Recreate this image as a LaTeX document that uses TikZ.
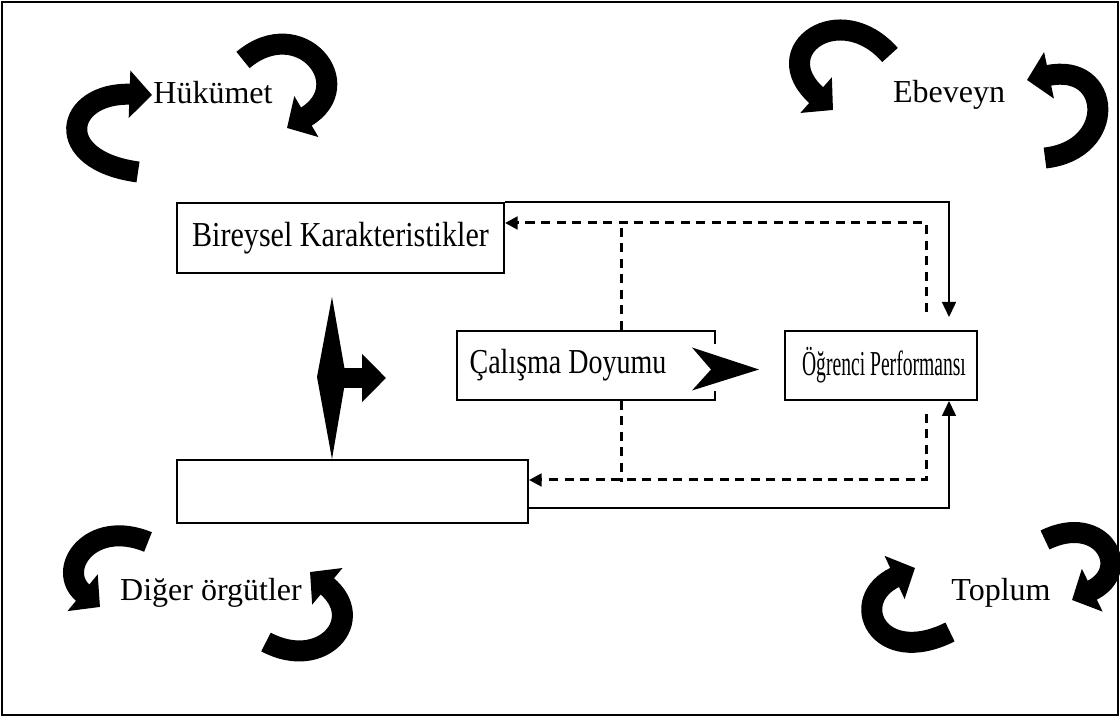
\documentclass[tikz,border=0pt]{standalone}
\usepackage{fontspec}
\setmainfont{Liberation Serif}
\usepackage{graphicx}
\usetikzlibrary{calc,arrows.meta}

\begin{document}
\begin{tikzpicture}[x=0.4pt,y=-0.4pt,
        box/.style={draw, line width=0.8pt, inner sep=0pt, font=\fontsize{14pt}{16pt}\selectfont},
        lbl/.style={inner sep=0pt, font=\fontsize{12.8pt}{15pt}\selectfont},
        flow/.style={line width=0.6pt, -{Triangle[length=6pt,width=5.6pt]}},
        fb/.style={line width=1.2pt, dash pattern=on 3.6pt off 2.6pt},
        fbtip/.style={fb, -{Triangle[length=5pt,width=5pt]}},
        curvy/.style={line width=8.4pt, -{Triangle[length=9pt,width=18.5pt]}}]
        \useasboundingbox (0,0) rectangle (1120,717);
        % Frame
        \draw[line width=0.8pt] (2,2) rectangle (1118,715);

        % Boxes
        \node[box, minimum width=130.8pt, minimum height=28pt] (bk) at (340.5,238) {\raisebox{3pt}{\scalebox{0.86}[1]{Bireysel Karakteristikler}}};
        \node[box, minimum width=103.2pt, minimum height=27.6pt] (cd) at (586,365.5) {\hspace*{-14.4pt}\scalebox{0.8}[1]{Çalışma Doyumu}};
        \node[box, minimum width=76.8pt, minimum height=27.6pt] (op) at (881,365.5) {\hspace*{2.4pt}\scalebox{0.56}[1]{Öğrenci Performansı}};
        \node[box, minimum width=140.4pt, minimum height=25.2pt] (lo) at (352.5,491.5) {};

        % Surroundings
        \node[lbl] (huk) at (213,93) {Hükümet};
        \node[lbl] (ebe) at (949,95) {Ebeveyn};
        \node[lbl] (dig) at (211,593) {Diğer örgütler};
        \node[lbl] (top) at (1001,593) {Toplum};

        % Solid links
        \draw[flow] (bk.north east) -| ($(op.north east)+(-29,-13)$);
        \draw[flow] ($(lo.south east)+(0,-16)$) -| ($(op.south east)+(-29,0)$);

        % Dashed feedback
        \draw[fbtip] ($(op.north east)+(-52,-18)$) |- ($(bk.north east)+(0,21)$);
        \draw[fbtip] ($(op.south east)+(-52,13)$) |- ($(lo.north east)+(0,21)$);
        \draw[fb] ($(cd.north west)+(165,0)$) -- ++(0,-107);
        \draw[fb] ($(cd.south west)+(165,0)$) -- ++(0,81);

        % Big head between the boxes
        \fill[white] ($(cd.east)+(-3,-21)$) rectangle ($(cd.east)+(45,26)$);
        \fill ($(cd.east)+(-24,-18)$) -- ($(cd.east)+(43,4)$) -- ($(cd.east)+(-24,25)$) -- ($(cd.east)+(-5,4)$) -- cycle;

        % Two way arrow
        \fill ($(lo.north west)+(156,0)$) coordinate (dt) -- ++(14,-82) -- ++(-14,-80) -- ++(-15,80) -- cycle;
        \draw[line width=8pt, -{Triangle[length=9.6pt,width=18.8pt]}] ($(dt)+(7,-81)$) -- ++(47,0);

        % Curved arrows
        \draw[curvy] (138,172) .. controls (50,160) and (65,92) .. (152,95);
        \draw[curvy] (243,60) .. controls (300,12) and (360,85) .. (287,128);
        \draw[curvy] (890,55) .. controls (840,-2) and (765,50) .. (833,110);
        \draw[curvy] (1045,158) .. controls (1118,150) and (1112,62) .. (1027,80);
        \draw[curvy] (148,542) .. controls (90,518) and (55,570) .. (100,607);
        \draw[curvy] (266,642) .. controls (322,672) and (368,620) .. (310,572);
        \draw[curvy] (950,632) .. controls (878,668) and (846,600) .. (915,568);
        \draw[curvy] (1045,540) .. controls (1102,512) and (1134,570) .. (1072,600);
\end{tikzpicture}
\end{document}
